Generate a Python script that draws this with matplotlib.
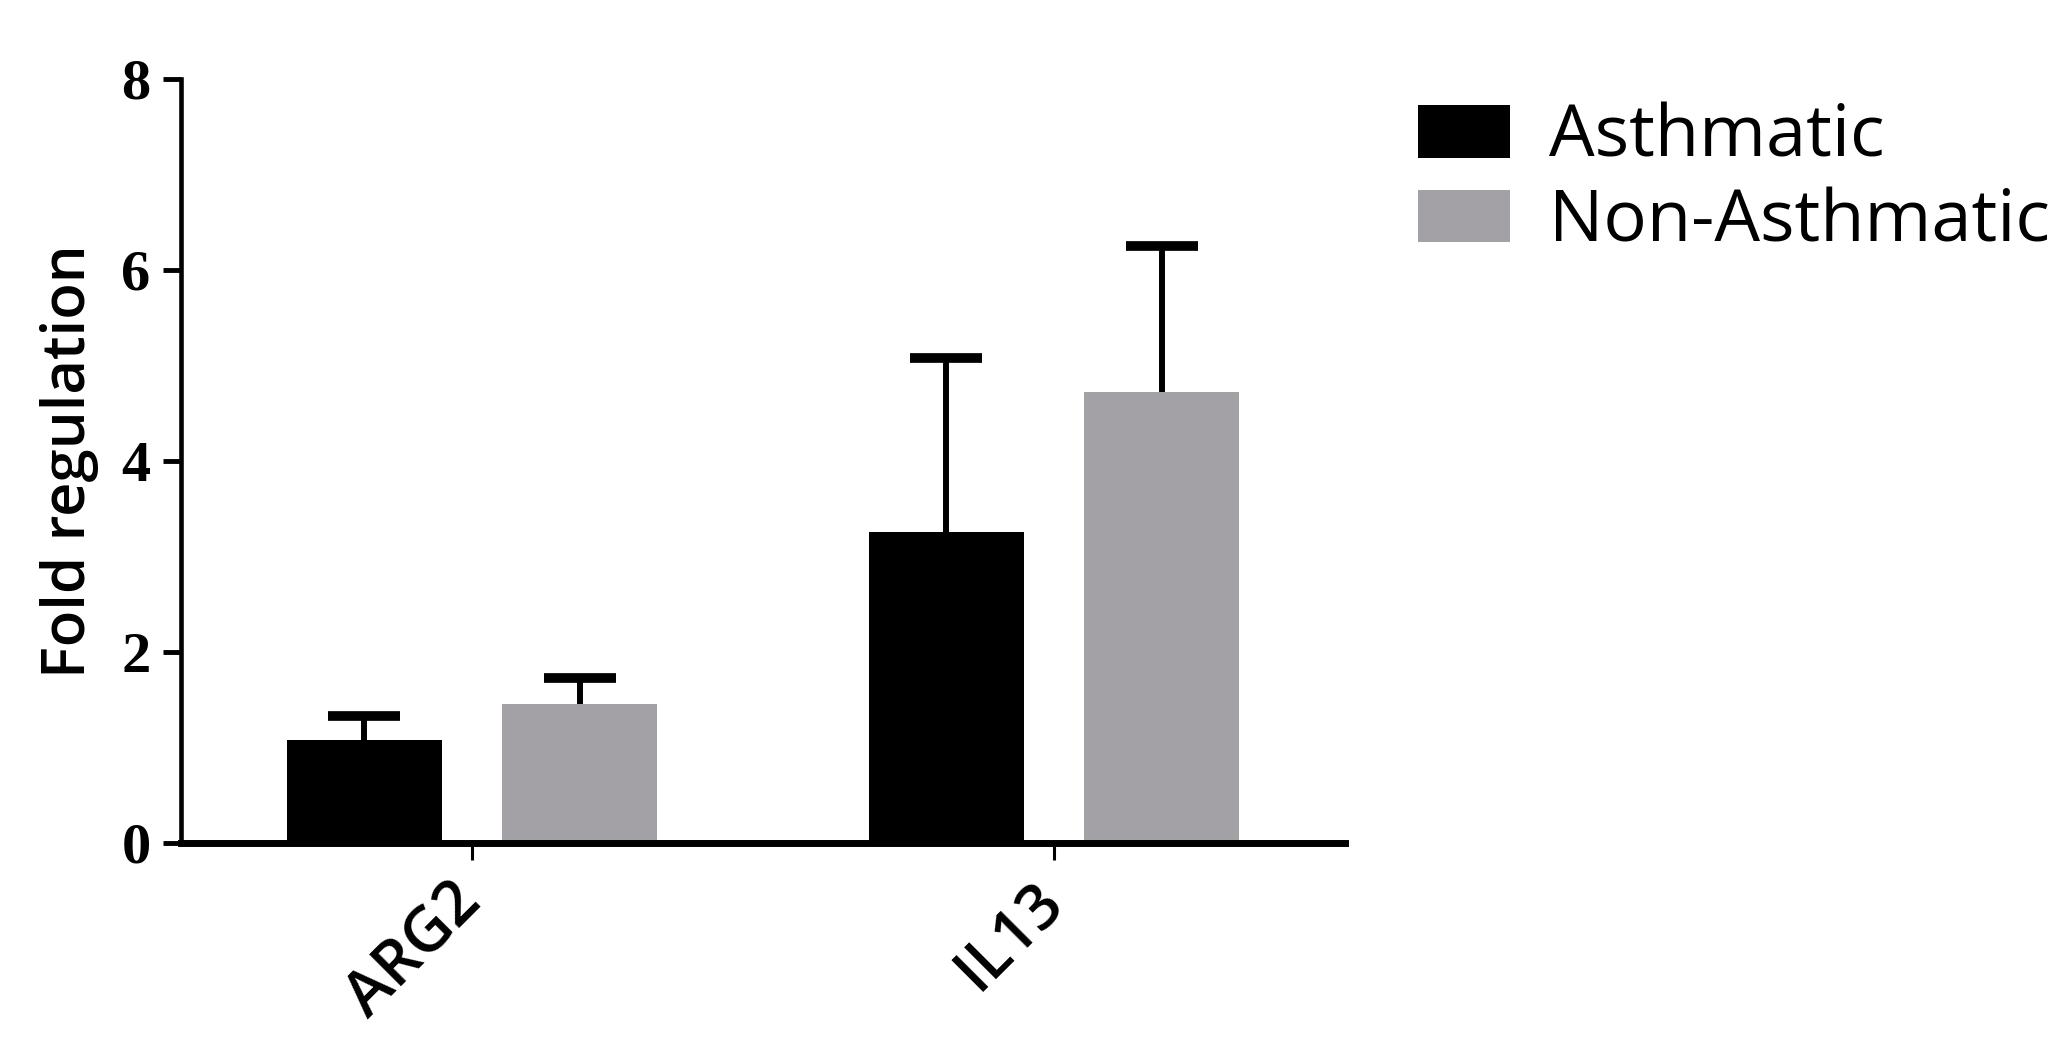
import numpy as np
import matplotlib
matplotlib.use('Agg')
import matplotlib.pyplot as plt

genes = ['ARG2', 'IL13']
asthmatic = [1.08, 3.26]
asthmatic_err = [0.25, 1.82]
non_asthmatic = [1.45, 4.72]
non_asthmatic_err = [0.28, 1.53]
y_ticks = [0, 2, 4, 6, 8]

black = '#000000'
grey = '#a3a1a6'

fig = plt.figure(figsize=(20.72, 10.43), dpi=100)
ax = fig.add_axes([0.0874, 0.1918, 0.5617, 0.7325])

x = np.arange(len(genes))
w = 0.267
off = 0.185
err_kw = dict(elinewidth=4.3, capsize=26, capthick=7, ecolor='black')

b1 = ax.bar(x - off, asthmatic, w, color=black, label='Asthmatic',
            yerr=[np.zeros(len(genes)), asthmatic_err], error_kw=err_kw)
b2 = ax.bar(x + off, non_asthmatic, w, color=grey, label='Non-Asthmatic',
            yerr=[np.zeros(len(genes)), non_asthmatic_err], error_kw=err_kw)
# only the upper cap is drawn
for b in (b1, b2):
    b.errorbar.lines[1][0].set_visible(False)

ax.set_xlim(-0.5, 1.5)
ax.set_ylim(0, 8)
ax.set_yticks(y_ticks)
ax.set_yticklabels([str(t) for t in y_ticks], family='Liberation Serif',
                   fontweight='bold', fontsize=42)
ax.set_xticks(x)
ax.set_xticklabels(genes, family='Open Sans', fontweight='semibold', fontsize=45,
                   rotation=45, ha='right', va='center', rotation_mode='anchor')
ax.tick_params(axis='y', direction='out', length=13, width=3.5, pad=9)
ax.tick_params(axis='x', direction='out', length=12, width=2.2, pad=24)

for s in ['top', 'right']:
    ax.spines[s].set_visible(False)
ax.spines['left'].set_linewidth(3.3)
ax.spines['bottom'].set_linewidth(5)

ax.set_ylabel('Fold regulation', family='Open Sans', fontweight='semibold',
              fontsize=43, labelpad=16)

fig.legend(loc='upper left', bbox_to_anchor=(1418 / 2072, 1 - 102 / 1043),
           frameon=False, prop={'family': 'Open Sans', 'size': 52},
           handlelength=1.27, handleheight=0.74, handletextpad=0.55,
           labelspacing=0.18, borderpad=0, borderaxespad=0)

fig.savefig('out.png', dpi=100)
